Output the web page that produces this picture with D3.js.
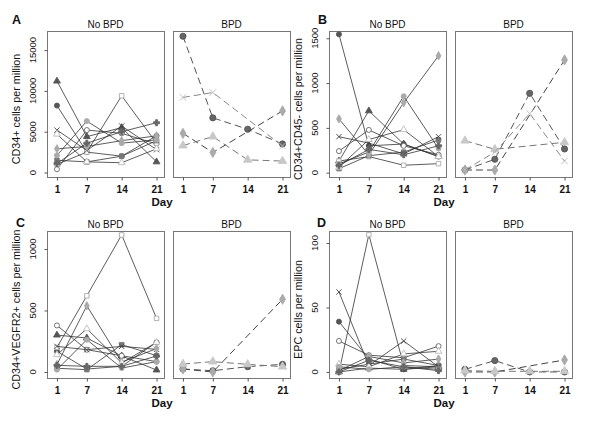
<!DOCTYPE html>
<html><head><meta charset="utf-8">
<script src="https://cdn.jsdelivr.net/npm/d3@7"></script>
<style>body{margin:0;background:#fff}svg{display:block}</style>
</head><body>
<svg id="c" width="600" height="423"></svg>
<script>
const days = [1, 7, 14, 21];
const panelLetters = ["A", "B", "C", "D"];
const groupTitles = ["No BPD", "BPD"];
const yTitles = ["CD34+ cells per million", "CD34+CD45- cells per million", "CD34+VEGFR2+ cells per million", "EPC cells per million"];
const yTicksA = [0, 5000, 10000, 15000];
const yTicksB = [0, 500, 1000, 1500];
const yTicksC = [0, 500, 1000];
const yTicksD = [0, 50, 100];
const xLabel = "Day";

// No BPD series (one per infant), values at days 1, 7, 14, 21
const noBpdA = [
  [11200, 4400, 5500, 1300],
  [8200, 2500, 2000, 4500],
  [400, 5200, 4800, 3500],
  [1000, 2500, 9400, 3600],
  [1500, 1300, 2000, 3900],
  [5200, 2700, 5700, 2800],
  [2900, 3200, 3900, 4500],
  [4700, 1300, 1200, 2900],
  [2100, 6300, 3600, 4000],
  [1100, 3600, 5000, 6100]
];
const bpdA = [
  [16700, 6700, 5300, 3500],
  [4800, 2450, null, 7550],
  [3300, 4400, 1550, 1400],
  [9200, 9800, null, 3250]
];
const noBpdB = [
  [130, 690, 320, 180],
  [1545, 300, 320, 180],
  [241, 477, 300, 200],
  [130, 180, 83, 101],
  [45, 190, 230, 365],
  [402, 330, 210, 402],
  [600, 200, 780, 1305],
  [60, 370, 480, 180],
  [100, 230, 853, 270],
  [80, 260, 200, 300]
];
const bpdB = [
  [30, 150, 886, 265],
  [30, 30, null, 1258],
  [357, 261, null, 339],
  [30, 230, 660, 130]
];
const noBpdC = [
  [300, 276, 130, 16],
  [168, 24, 46, 241],
  [378, 181, 132, 84],
  [200, 619, 1114, 436],
  [30, 19, 222, 133],
  [208, 181, 208, 184],
  [60, 538, 80, 190],
  [140, 351, 73, 241],
  [19, 262, 32, 84],
  [54, 46, 46, 130]
];
const bpdC = [
  [24, 10, 43, 62],
  [24, 0, null, 591],
  [65, 84, 62, 43]
];
const noBpdD = [
  [0, 3, 2, 4],
  [39, 10, 2, 5],
  [24, 13, 11, 20],
  [0, 106.5, 5, 4],
  [2, 6, 10, 5],
  [62, 5, 24, 4],
  [1, 12, 7, 10],
  [6, 4, 14, 16],
  [4, 2, 4, 2],
  [0, 9, 4, 1]
];
const bpdD = [
  [2, 8.8, 0, 0],
  [0, 0, null, 9.3],
  [1, 0.5, 0.5, 0.5]
];

const svg = d3.select("#c");
const font = "'Liberation Sans', Arial, Helvetica, sans-serif";

const symTimes = d3.symbolTimes || d3.symbolCross;
const noBpdStyles = [
  {type: d3.symbolTriangle, fill: "#555", stroke: "#555"},
  {type: d3.symbolCircle, fill: "#555", stroke: "#555"},
  {type: d3.symbolCircle, fill: "#fff", stroke: "#666"},
  {type: d3.symbolSquare, fill: "#fff", stroke: "#aaa"},
  {type: d3.symbolSquare, fill: "#777", stroke: "#777"},
  {type: symTimes, fill: "none", stroke: "#444"},
  {type: d3.symbolDiamond, fill: "#aaa", stroke: "#aaa"},
  {type: d3.symbolTriangle, fill: "#fff", stroke: "#bbb"},
  {type: d3.symbolCircle, fill: "#aaa", stroke: "#aaa"},
  {type: d3.symbolCross, fill: "#666", stroke: "#666"}
];
const bpdStyles = [
  {type: d3.symbolCircle, fill: "#666", stroke: "#555", line: "#555"},
  {type: d3.symbolDiamond, fill: "#aaa", stroke: "#aaa", line: "#444"},
  {type: d3.symbolTriangle, fill: "#c8c8c8", stroke: "#c8c8c8", line: "#777"},
  {type: symTimes, fill: "none", stroke: "#bbb", line: "#888"}
];

const panels = [
  {letter: 0, x0: 47, top: 31, bottom: 177, ydom: [-551, 17340], ticks: yTicksA, nb: noBpdA, b: bpdA, lx: 12, ly: 24},
  {letter: 1, x0: 329, top: 31, bottom: 177, ydom: [-48, 1581], ticks: yTicksB, nb: noBpdB, b: bpdB, lx: 318, ly: 24},
  {letter: 2, x0: 47, top: 231, bottom: 378, ydom: [-49, 1146], ticks: yTicksC, nb: noBpdC, b: bpdC, lx: 16, ly: 227},
  {letter: 3, x0: 329, top: 231, bottom: 378, ydom: [-4.7, 109.3], ticks: yTicksD, nb: noBpdD, b: bpdD, lx: 317, ly: 227}
];
const boxW = 117, gap = 9;

panels.forEach(p => {
  const y = d3.scaleLinear().domain(p.ydom).range([p.bottom, p.top]);
  [0, 1].forEach(sub => {
    const left = p.x0 + sub * (boxW + gap);
    const x = d3.scaleLinear().domain([-1, 22.5]).range([left, left + boxW]);
    const g = svg.append("g");
    g.append("rect").attr("x", left + 0.5).attr("y", p.top + 0.5)
      .attr("width", boxW).attr("height", p.bottom - p.top)
      .attr("fill", "none").attr("stroke", "#777").attr("stroke-width", 1);
    const xa = g.append("g").attr("transform", `translate(0,${p.bottom + 0.5})`)
      .call(d3.axisBottom(x).tickValues(days).tickSize(3).tickFormat(d3.format("d")));
    xa.select(".domain").remove();
    xa.selectAll("line").attr("stroke", "#555");
    xa.selectAll("text").attr("font-family", font).attr("font-size", 10).attr("font-weight", "bold").attr("fill", "#111").attr("dy", "0.95em");
    g.append("text").attr("x", left + boxW / 2).attr("y", p.top - 3)
      .attr("text-anchor", "middle").attr("font-family", font).attr("font-size", 10)
      .attr("fill", "#111").text(groupTitles[sub]);
    if (sub === 0) {
      const ya = g.append("g").attr("transform", `translate(${left + 0.5},0)`)
        .call(d3.axisLeft(y).tickValues(p.ticks).tickSize(3).tickFormat(d3.format("d")));
      ya.select(".domain").remove();
      ya.selectAll("line").attr("stroke", "#555");
      ya.selectAll("text").attr("font-family", font).attr("font-size", 9.5).attr("fill", "#111")
        .attr("text-anchor", "middle").attr("x", null).attr("dy", null)
        .attr("transform", d => `translate(-12,${y(d)}) rotate(-90)`).attr("y", null);
      ya.selectAll(".tick").attr("transform", "translate(0,0)");
      ya.selectAll(".tick line").attr("transform", d => `translate(0,${y(d) + 0.5})`);
      g.append("text").attr("transform", `translate(${left - 27},${(p.top + p.bottom) / 2 + 5}) rotate(-90)`)
        .attr("text-anchor", "middle").attr("font-family", font).attr("font-size", 10.8)
        .attr("fill", "#111").text(yTitles[p.letter]);
    }
    const series = sub === 0 ? p.nb : p.b;
    const styles = sub === 0 ? noBpdStyles : bpdStyles;
    const line = d3.line().x(d => x(d.day)).y(d => y(d.v));
    series.forEach((vals, i) => {
      const pts = vals.map((v, j) => ({day: days[j], v})).filter(d => d.v !== null);
      const st = styles[i % styles.length];
      g.append("path").attr("d", line(pts)).attr("fill", "none")
        .attr("stroke", sub === 0 ? "#333" : st.line)
        .attr("stroke-width", sub === 0 ? 0.8 : 1)
        .attr("stroke-dasharray", sub === 0 ? null : "7,4");
      g.selectAll(null).data(pts).enter().append("path")
        .attr("transform", d => `translate(${x(d.day)},${y(d.v)})`)
        .attr("d", d3.symbol().type(st.type).size(sub === 0 ? 20 : 30))
        .attr("fill", st.fill).attr("stroke", st.stroke).attr("stroke-width", 0.9);
    });
  });
  svg.append("text").attr("x", p.lx).attr("y", p.ly)
    .attr("font-family", font).attr("font-size", 12.5).attr("font-weight", "bold")
    .attr("fill", "#111").text(panelLetters[p.letter]);
  svg.append("text").attr("x", p.x0 + boxW - 2).attr("y", p.bottom + 29)
    .attr("text-anchor", "middle").attr("font-family", font).attr("font-size", 11.5)
    .attr("font-weight", "bold").attr("fill", "#111").text(xLabel);
});
</script>
</body></html>
